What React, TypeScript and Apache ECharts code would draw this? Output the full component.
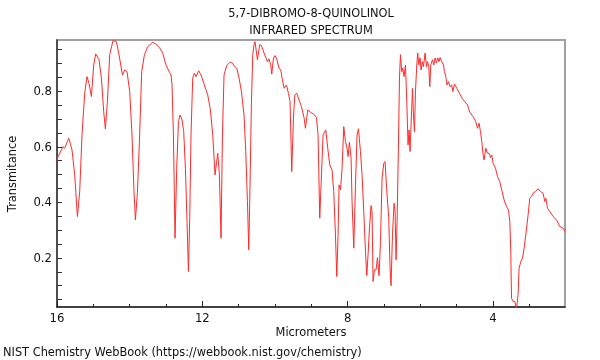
import React, { useEffect, useRef } from "react";
import * as echarts from "echarts";

// [micrometers, transmittance], in segments
const seg16to14 = [
  [16.0, 0.55], [15.972, 0.565], [15.879, 0.589], [15.835, 0.601], [15.788, 0.595], [15.714, 0.619], [15.678, 0.631],
  [15.623, 0.607], [15.587, 0.589], [15.513, 0.499], [15.438, 0.349], [15.375, 0.439], [15.312, 0.643], [15.238, 0.793],
  [15.174, 0.853], [15.119, 0.829], [15.053, 0.781], [14.99, 0.895], [14.935, 0.935], [14.844, 0.914], [14.778, 0.848],
  [14.715, 0.727], [14.668, 0.664], [14.613, 0.763], [14.549, 0.932], [14.459, 0.983], [14.365, 0.979], [14.293, 0.932],
  [14.2, 0.859], [14.137, 0.877], [14.073, 0.871],
];
const seg14to12 = [
  [13.999, 0.799], [13.936, 0.643], [13.881, 0.439], [13.842, 0.337], [13.787, 0.435], [13.732, 0.62], [13.669, 0.871],
  [13.594, 0.932], [13.503, 0.961], [13.366, 0.977], [13.275, 0.97], [13.181, 0.958], [13.091, 0.938], [13.0, 0.895],
  [12.906, 0.869], [12.862, 0.859], [12.835, 0.823], [12.796, 0.643], [12.752, 0.271], [12.705, 0.523], [12.658, 0.691],
  [12.614, 0.715], [12.559, 0.697], [12.513, 0.655], [12.466, 0.523], [12.422, 0.331], [12.383, 0.151], [12.347, 0.343],
  [12.312, 0.643], [12.265, 0.848], [12.218, 0.866], [12.174, 0.853], [12.1, 0.874], [12.036, 0.859],
];
const seg12to10 = [
  [11.943, 0.823], [11.852, 0.787], [11.778, 0.733], [11.714, 0.643], [11.651, 0.499], [11.577, 0.577], [11.53, 0.499],
  [11.486, 0.271], [11.447, 0.643], [11.403, 0.859], [11.329, 0.893], [11.238, 0.905], [11.172, 0.902], [11.109, 0.889],
  [11.054, 0.884], [10.99, 0.848], [10.924, 0.799], [10.853, 0.715], [10.806, 0.583], [10.759, 0.403], [10.723, 0.229],
  [10.688, 0.463], [10.649, 0.763], [10.613, 0.932], [10.577, 0.968], [10.55, 0.979], [10.484, 0.914], [10.421, 0.968],
  [10.374, 0.965], [10.302, 0.938], [10.209, 0.907], [10.165, 0.917], [10.118, 0.895], [10.09, 0.862], [10.043, 0.92],
];
const seg10to8 = [
  [9.999, 0.929], [9.953, 0.917], [9.889, 0.884], [9.843, 0.877], [9.796, 0.841], [9.752, 0.811], [9.686, 0.823],
  [9.631, 0.793], [9.587, 0.763], [9.54, 0.511], [9.493, 0.703], [9.457, 0.787], [9.402, 0.793], [9.339, 0.769],
  [9.273, 0.745], [9.201, 0.705], [9.163, 0.667], [9.099, 0.733], [9.025, 0.725], [8.934, 0.718], [8.86, 0.706],
  [8.816, 0.643], [8.769, 0.343], [8.722, 0.499], [8.678, 0.643], [8.604, 0.661], [8.549, 0.595], [8.494, 0.535],
  [8.431, 0.517], [8.384, 0.439], [8.337, 0.283], [8.301, 0.133], [8.265, 0.283], [8.238, 0.463], [8.199, 0.445],
  [8.155, 0.523], [8.108, 0.673], [8.062, 0.619], [8.018, 0.595],
];
const seg8to6 = [
  [7.99, 0.565], [7.952, 0.617], [7.907, 0.559], [7.88, 0.403], [7.833, 0.235], [7.786, 0.463], [7.742, 0.643],
  [7.704, 0.665], [7.649, 0.583], [7.605, 0.499], [7.558, 0.367], [7.511, 0.223], [7.475, 0.136], [7.44, 0.211],
  [7.401, 0.307], [7.357, 0.388], [7.33, 0.367], [7.302, 0.115], [7.263, 0.157], [7.219, 0.157], [7.181, 0.201],
  [7.137, 0.136], [7.098, 0.259], [7.054, 0.487], [7.007, 0.541], [6.972, 0.547], [6.917, 0.427], [6.87, 0.343],
  [6.834, 0.163], [6.807, 0.1], [6.768, 0.283], [6.724, 0.397], [6.696, 0.367], [6.669, 0.193], [6.641, 0.331],
  [6.603, 0.607], [6.575, 0.848], [6.548, 0.932], [6.512, 0.871], [6.485, 0.884], [6.449, 0.853], [6.41, 0.895],
  [6.374, 0.763], [6.339, 0.607], [6.311, 0.661], [6.284, 0.583], [6.256, 0.679], [6.217, 0.811], [6.19, 0.715],
  [6.162, 0.655], [6.135, 0.799], [6.099, 0.895], [6.072, 0.938], [6.044, 0.895], [6.008, 0.92],
];
const seg6to4 = [
  [5.981, 0.877], [5.942, 0.907], [5.915, 0.889], [5.871, 0.938], [5.832, 0.889], [5.805, 0.907], [5.769, 0.889],
  [5.741, 0.817], [5.714, 0.895], [5.667, 0.914], [5.631, 0.895], [5.595, 0.92], [5.557, 0.902], [5.521, 0.92],
  [5.485, 0.907], [5.458, 0.922], [5.411, 0.907], [5.364, 0.895], [5.337, 0.871], [5.301, 0.853], [5.265, 0.823],
  [5.227, 0.835], [5.183, 0.817], [5.136, 0.823], [5.108, 0.799], [5.061, 0.826], [4.998, 0.811], [4.924, 0.793],
  [4.852, 0.775], [4.778, 0.763], [4.704, 0.751], [4.64, 0.725], [4.549, 0.709], [4.475, 0.691], [4.428, 0.667],
  [4.384, 0.685], [4.346, 0.655], [4.31, 0.619], [4.274, 0.571], [4.247, 0.553], [4.2, 0.595], [4.153, 0.577],
  [4.109, 0.577], [4.07, 0.561], [4.035, 0.571],
];
const seg4to2 = [
  [3.999, 0.541], [3.933, 0.523], [3.878, 0.493], [3.815, 0.475], [3.751, 0.439], [3.696, 0.409], [3.63, 0.385],
  [3.575, 0.373], [3.539, 0.331], [3.512, 0.223], [3.492, 0.055], [3.448, 0.043], [3.401, 0.043], [3.355, 0.015],
  [3.311, 0.067], [3.283, 0.163], [3.236, 0.187], [3.189, 0.199], [3.145, 0.235], [3.099, 0.283], [3.035, 0.355],
  [2.989, 0.415], [2.942, 0.421], [2.898, 0.433], [2.832, 0.439], [2.76, 0.449], [2.694, 0.439], [2.623, 0.433],
  [2.576, 0.403], [2.548, 0.415], [2.501, 0.379], [2.438, 0.367], [2.347, 0.349], [2.254, 0.337], [2.163, 0.313],
  [2.072, 0.307], [2.02, 0.295],
];

const xLabelValues = [4, 8, 12, 16];
const xMinorTickValues = [3, 4, 5, 6, 7, 8, 9, 10, 11, 12, 13, 14, 15, 16];
const yLabelValues = [0.2, 0.4, 0.6, 0.8];
const yTickValues = [0.05, 0.1, 0.15, 0.2, 0.25, 0.3, 0.35, 0.4, 0.45, 0.5, 0.55, 0.6, 0.65, 0.7, 0.75, 0.8, 0.85, 0.9, 0.95];

const titleLines = ["5,7-DIBROMO-8-QUINOLINOL", "INFRARED SPECTRUM"];
const xName = "Micrometers";
const yName = "Transmitance";
const footer = "NIST Chemistry WebBook (https://webbook.nist.gov/chemistry)";

const FONT = "DejaVu Sans";
const FS = 11.4;

export default function App() {
  const ref = useRef<HTMLDivElement>(null);
  useEffect(() => {
    if (!ref.current) return;
    const chart = echarts.init(ref.current, undefined, { renderer: "svg" });
    const data = [...seg16to14, ...seg14to12, ...seg12to10, ...seg10to8, ...seg8to6, ...seg6to4, ...seg4to2];
    const X_MIN = 2.02, X_MAX = 16, Y_MIN = 0.023, Y_MAX = 0.985;
    const font = `${FS}px "${FONT}"`;
    chart.setOption({
      animation: false,
      textStyle: { fontFamily: FONT },
      grid: {
        left: 57, right: 35, top: 40, bottom: 53,
        show: true, borderColor: "#a0a0a0", borderWidth: 2, backgroundColor: "transparent",
      },
      xAxis: [
        {
          type: "value", min: X_MIN, max: X_MAX, inverse: true, position: "bottom",
          axisLine: { show: true, onZero: false, lineStyle: { color: "#222", width: 1.5 } },
          axisTick: { show: true, inside: true, length: 6, customValues: xLabelValues, lineStyle: { color: "#222" } },
          axisLabel: { show: true, customValues: xLabelValues, margin: 5, fontSize: FS + 0.3, color: "#111", fontFamily: FONT },
          splitLine: { show: false },
        },
        {
          type: "value", min: X_MIN, max: X_MAX, inverse: true, position: "bottom",
          axisLine: { show: false },
          axisTick: { show: true, inside: true, length: 3, customValues: xMinorTickValues, lineStyle: { color: "#222" } },
          axisLabel: { show: false },
          splitLine: { show: false },
        },
      ],
      yAxis: {
        type: "value", min: Y_MIN, max: Y_MAX,
        axisLine: { show: true, onZero: false, lineStyle: { color: "#333", width: 1.5 } },
        axisTick: { show: true, inside: true, length: 5, customValues: yTickValues, lineStyle: { color: "#333" } },
        axisLabel: {
          show: true, customValues: yLabelValues, margin: 5, fontSize: FS + 0.3, color: "#111", fontFamily: FONT,
          formatter: (v: number) => v.toFixed(1),
        },
        splitLine: { show: false },
      },
      series: [
        {
          type: "line", data, xAxisIndex: 0, yAxisIndex: 0, showSymbol: false, symbol: "none",
          lineStyle: { color: "#ff2a2a", width: 1 }, clip: true,
        },
      ],
      graphic: [
        { type: "text", x: 311, y: 13, style: { text: titleLines[0], fill: "#111", font, align: "center", verticalAlign: "middle" } },
        { type: "text", x: 311, y: 30, style: { text: titleLines[1], fill: "#111", font, align: "center", verticalAlign: "middle" } },
        { type: "text", x: 311, y: 332, style: { text: xName, fill: "#111", font, align: "center", verticalAlign: "middle" } },
        { type: "text", x: 12, y: 174, rotation: Math.PI / 2, style: { text: yName, fill: "#111", font, align: "center", verticalAlign: "middle" } },
        { type: "text", x: 3, y: 352, style: { text: footer, fill: "#111", font, align: "left", verticalAlign: "middle" } },
      ],
    });
    return () => chart.dispose();
  }, []);
  return <div ref={ref} style={{ width: 600, height: 360, position: "fixed", left: 0, top: 0 }} />;
}
